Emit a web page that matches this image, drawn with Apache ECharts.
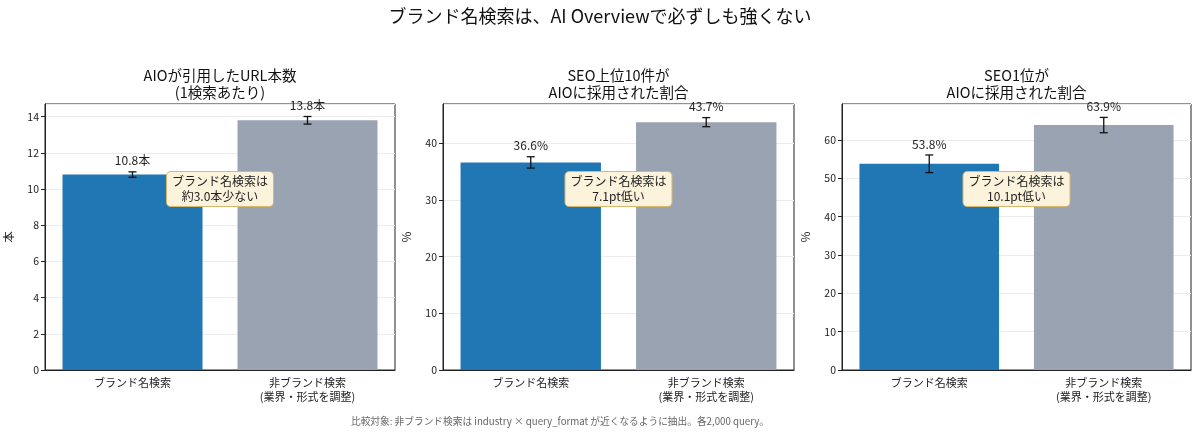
<!DOCTYPE html>
<html><head><meta charset="utf-8">
<script src="https://cdn.jsdelivr.net/npm/echarts@6/dist/echarts.min.js"></script>
<style>html,body{margin:0;padding:0;background:#fff}#c{width:1200px;height:436px}</style>
</head><body><div id="c"></div>
<script>
const mainTitle = 'ブランド名検索は、AI Overviewで必ずしも強くない';
const footnote = '比較対象: 非ブランド検索は industry × query_format が近くなるように抽出。各2,000 query。';
const categories = ['ブランド名検索', '非ブランド検索\n(業界・形式を調整)'];
const panelTitles = ['AIOが引用したURL本数\n(1検索あたり)', 'SEO上位10件が\nAIOに採用された割合', 'SEO1位が\nAIOに採用された割合'];
const yNames = ['本', '%', '%'];
const units = ['本', '%', '%'];
const urlCount = [10.8, 13.8];
const urlCountErr = [0.15, 0.21];
const top10Rate = [36.6, 43.7];
const top10Err = [1.0, 0.8];
const top1Rate = [53.8, 63.9];
const top1Err = [2.3, 2.0];
const yMax = [14.7, 46.9, 69.4];
const yInterval = [2, 10, 10];
const annotations = ['ブランド名検索は\n約3.0本少ない', 'ブランド名検索は\n7.1pt低い', 'ブランド名検索は\n10.1pt低い'];

const values = [urlCount, top10Rate, top1Rate];
const errs = [urlCountErr, top10Err, top1Err];
const barColors = ['#2176b4', '#9aa3b2'];
const FONT = '"Noto Sans CJK JP", "Noto Sans", sans-serif';
const grids = [
  {left: 45, width: 350, top: 104, height: 266},
  {left: 443, width: 351, top: 104, height: 266},
  {left: 842, width: 349, top: 104, height: 266}
];

const chart = echarts.init(document.getElementById('c'));
const option = {
  backgroundColor: '#fff',
  animation: false,
  textStyle: {fontFamily: FONT},
  title: [
    {text: mainTitle, left: 'center', top: 7, padding: 0, textStyle: {fontSize: 18, fontWeight: 'normal', color: '#111', fontFamily: FONT}},
    ...panelTitles.map((t, i) => ({
      text: t, left: grids[i].left + grids[i].width / 2, textAlign: 'center', top: 67, padding: 0,
      textStyle: {fontSize: 14.5, fontWeight: 'normal', color: '#111', lineHeight: 17, fontFamily: FONT}
    })),
    {text: footnote, left: 351, top: 416, padding: 0, textStyle: {fontSize: 9.7, fontWeight: 'normal', color: '#666', fontFamily: FONT}}
  ],
  grid: grids.map(g => Object.assign({show: true, borderColor: '#222', borderWidth: 1, backgroundColor: 'transparent'}, g)),
  xAxis: grids.map((g, i) => ({
    type: 'category', gridIndex: i, data: categories,
    axisLine: {lineStyle: {color: '#222'}},
    axisTick: {alignWithLabel: true, length: 4, lineStyle: {color: '#222'}},
    axisLabel: {color: '#222', fontSize: 11, lineHeight: 14, margin: 6, interval: 0, fontFamily: FONT},
    splitLine: {show: false}
  })),
  yAxis: grids.map((g, i) => ({
    type: 'value', gridIndex: i, min: 0, max: yMax[i], interval: yInterval[i],
    name: yNames[i], nameLocation: 'middle', nameGap: 31,
    nameTextStyle: {color: '#222', fontSize: 11.5, fontFamily: FONT},
    axisLine: {show: true, lineStyle: {color: '#222'}},
    axisTick: {show: true, length: 4, lineStyle: {color: '#222'}},
    axisLabel: {color: '#222', fontSize: 10.5, margin: 6, showMaxLabel: false, fontFamily: FONT,
      formatter: v => (Math.abs(v / yInterval[i] - Math.round(v / yInterval[i])) < 1e-6 ? String(v) : '')},
    splitLine: {show: true, lineStyle: {color: '#ececec', width: 1}}
  })),
  series: []
};
values.forEach((vals, i) => {
  option.series.push({
    type: 'bar', xAxisIndex: i, yAxisIndex: i, barWidth: '80%',
    data: vals.map((v, k) => ({value: v, itemStyle: {color: barColors[k]}})),
    z: 2
  });
  option.series.push({
    type: 'custom', xAxisIndex: i, yAxisIndex: i, z: 5,
    data: vals.map((v, k) => [k, v - errs[i][k], v + errs[i][k], v]),
    renderItem: (params, api) => {
      const k = api.value(0);
      const lo = api.coord([k, api.value(1)]);
      const hi = api.coord([k, api.value(2)]);
      const cap = 4;
      const ls = {stroke: '#111', lineWidth: 1.3};
      return {type: 'group', children: [
        {type: 'line', shape: {x1: lo[0], y1: lo[1], x2: hi[0], y2: hi[1]}, style: ls},
        {type: 'line', shape: {x1: lo[0] - cap, y1: lo[1], x2: lo[0] + cap, y2: lo[1]}, style: ls},
        {type: 'line', shape: {x1: hi[0] - cap, y1: hi[1], x2: hi[0] + cap, y2: hi[1]}, style: ls},
        {type: 'text', style: {text: api.value(3).toFixed(1) + units[i], x: hi[0], y: hi[1] - 5,
          align: 'center', verticalAlign: 'bottom', fill: '#222', fontSize: 12, fontFamily: FONT}}
      ]};
    }
  });
});
chart.setOption(option);

const graphics = annotations.map((t, i) => {
  const p0 = chart.convertToPixel({xAxisIndex: i, yAxisIndex: i}, [0, yMax[i] * 0.68]);
  const p1 = chart.convertToPixel({xAxisIndex: i, yAxisIndex: i}, [1, yMax[i] * 0.68]);
  return {
    type: 'text', x: (p0[0] + p1[0]) / 2, y: p0[1], z: 100,
    style: {text: t, align: 'center', verticalAlign: 'middle', fill: '#222', fontSize: 12, lineHeight: 15,
      fontFamily: FONT, backgroundColor: '#fcf3dc', borderColor: '#d8b96c', borderWidth: 1, borderRadius: 4,
      padding: [2, 5, 2, 5]}
  };
});
chart.setOption({graphic: graphics});
</script></body></html>
